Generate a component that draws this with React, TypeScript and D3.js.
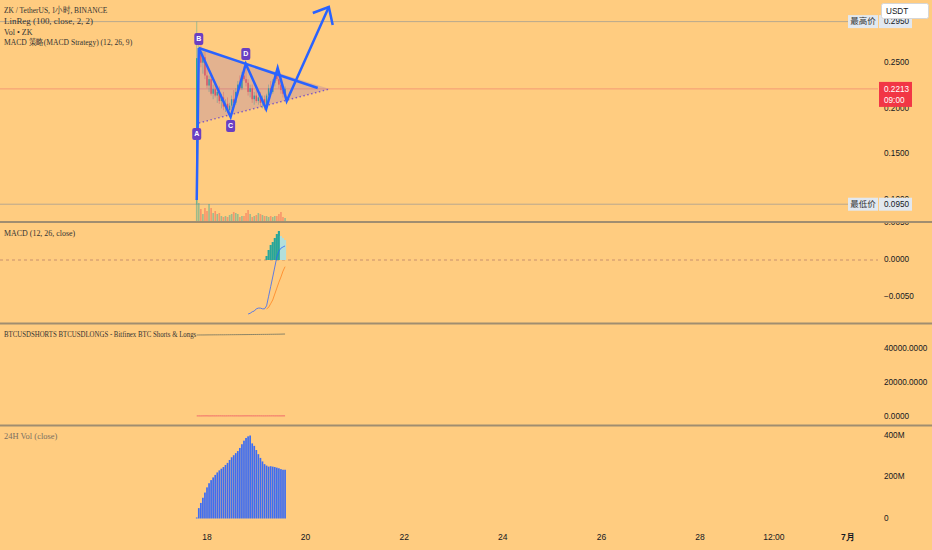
import * as d3 from "d3";

// ZK / USDT hourly candles, first bar at 17 Jun 19:00
const firstBar = new Date(2024, 5, 17, 19);
const opens = [0.100, 0.255, 0.262, 0.250, 0.256, 0.236, 0.225, 0.232, 0.216, 0.221, 0.214, 0.218, 0.208, 0.212, 0.202, 0.205, 0.198, 0.203, 0.210, 0.206, 0.218, 0.226, 0.222, 0.236, 0.232, 0.228, 0.218, 0.222, 0.210, 0.214, 0.208, 0.212, 0.206, 0.210, 0.204, 0.214, 0.222, 0.218, 0.228, 0.236, 0.232, 0.226, 0.220, 0.216];
const highs = [0.295, 0.275, 0.270, 0.262, 0.262, 0.245, 0.236, 0.238, 0.226, 0.228, 0.222, 0.224, 0.216, 0.218, 0.210, 0.212, 0.206, 0.214, 0.220, 0.222, 0.230, 0.236, 0.240, 0.246, 0.248, 0.232, 0.226, 0.226, 0.218, 0.220, 0.216, 0.218, 0.214, 0.214, 0.216, 0.226, 0.230, 0.232, 0.240, 0.244, 0.240, 0.232, 0.226, 0.224];
const lows = [0.095, 0.240, 0.245, 0.238, 0.232, 0.222, 0.218, 0.214, 0.210, 0.212, 0.206, 0.205, 0.200, 0.198, 0.196, 0.195, 0.191, 0.200, 0.204, 0.204, 0.214, 0.220, 0.220, 0.230, 0.224, 0.214, 0.212, 0.206, 0.204, 0.206, 0.204, 0.202, 0.200, 0.198, 0.202, 0.210, 0.216, 0.216, 0.224, 0.230, 0.222, 0.216, 0.212, 0.212];
const closes = [0.255, 0.262, 0.250, 0.256, 0.236, 0.225, 0.232, 0.216, 0.221, 0.214, 0.218, 0.208, 0.212, 0.202, 0.205, 0.198, 0.203, 0.210, 0.206, 0.218, 0.226, 0.222, 0.236, 0.232, 0.228, 0.218, 0.222, 0.210, 0.214, 0.208, 0.212, 0.206, 0.210, 0.204, 0.214, 0.222, 0.218, 0.228, 0.236, 0.232, 0.226, 0.220, 0.216, 0.2213];
const volumes = [22, 18, 12, 7, 13, 10, 17, 13, 8, 10, 7, 8, 5, 4, 5, 4, 6, 7, 9, 8, 7, 4, 5, 5, 8, 11, 7, 4, 5, 6, 8, 7, 6, 5, 5, 4, 5, 4, 5, 5, 7, 9, 4, 3];

// MACD (12, 26, close)
const macdStart = 25;
const macdValues = [-0.0073, -0.0072, -0.0070, -0.0069, -0.0066, -0.0065, -0.0065, -0.0066, -0.0066, -0.0062, -0.0049, -0.0036, -0.0023, -0.00095, 0.0004, 0.0012, 0.0016, 0.00176, 0.0019];
const signalStart = 34;
const signalValues = [-0.0066, -0.0064, -0.0059, -0.0054, -0.0046, -0.0038, -0.0030, -0.0023, -0.0015, -0.0009];
const histValues = [0.00054, 0.00135, 0.00203, 0.00243, 0.00297, 0.00351, 0.00392, 0.00324, 0.00297, 0.00270];

// Bitfinex BTC longs / shorts
const btcLongs = [48230, 48250, 48260, 48255, 48270, 48290, 48300, 48305, 48320, 48330, 48335, 48350, 48360, 48355, 48370, 48390, 48400, 48410, 48415, 48430, 48440, 48450, 48465, 48470, 48480, 48500, 48510, 48520, 48530, 48545, 48560, 48570, 48585, 48600, 48610, 48630, 48650, 48660, 48680, 48700, 48720, 48750, 48780, 48810];
const btcShorts = [640, 650, 630, 660, 655, 670, 640, 650, 660, 645, 660, 670, 655, 650, 640, 660, 670, 665, 650, 660, 655, 640, 650, 660, 670, 680, 665, 650, 660, 655, 670, 660, 650, 640, 655, 660, 670, 665, 650, 660, 655, 650, 660, 665];

// 24H Vol (close), millions
const vol24h = [5, 50, 75, 100, 125, 150, 170, 185, 198, 210, 222, 232, 240, 248, 258, 268, 282, 295, 305, 315, 325, 340, 358, 375, 388, 396, 400, 362, 350, 330, 310, 292, 275, 262, 255, 250, 252, 250, 248, 245, 242, 238, 235, 235];

// drawing: zigzag + triangle, [hours after first bar, price]
const zigzag: [number, number][] = [[0, 0.0996], [1, 0.2661], [16.5, 0.1905], [23.9, 0.2486], [33.8, 0.1993], [39.4, 0.2442], [43.8, 0.2081], [64.3, 0.311]];
const arrowWings: [number, number][] = [[56.5, 0.3044], [64.3, 0.311], [66.2, 0.2913]];
const upperLine: [number, number][] = [[1, 0.2661], [58.9, 0.2223]];
const lowerLine: [number, number][] = [[1, 0.184], [64.75, 0.2212]];
const pointLabels = ["A", "B", "C", "D"];
const pointLabelAt: [number, number][] = [[0, 0.1718], [1, 0.2661], [16.5, 0.1905], [23.9, 0.2486]];
const pointLabelShift = [0, -9, 9, -10];

const legendLines = ["ZK / TetherUS, 1小时, BINANCE", "LinReg (100, close, 2, 2)", "Vol • ZK", "MACD 策略(MACD Strategy) (12, 26, 9)"];
const priceTicks = [0.1, 0.15, 0.2, 0.25];
const macdTicks = [0.005, 0, -0.005];
const btcTicks = [0, 20000, 40000];
const vol24Ticks = [0, 200, 400];
const vol24TickLabels = ["0", "200M", "400M"];
const timeTicks = [new Date(2024, 5, 18), new Date(2024, 5, 20), new Date(2024, 5, 22), new Date(2024, 5, 24), new Date(2024, 5, 26), new Date(2024, 5, 28), new Date(2024, 5, 29, 12), new Date(2024, 6, 1)];
const timeTickLabels = ["18", "20", "22", "24", "26", "28", "12:00", "7月"];

const BG = "#ffcc80";
const UP = "#26a69a";
const DOWN = "#ef5350";
const BLUE = "#2962ff";
const LEGEND_FONT = "'Liberation Serif', serif";
const SANS = "'Liberation Sans', Arial, sans-serif";
const CJK = "'Noto Sans CJK SC', sans-serif";
const W = 932;
const H = 550;
const plotRight = 878;
const axisX = 884;

const monoWidth = (s: string) =>
  Array.from(s).reduce((w, ch) => w + (ch.charCodeAt(0) > 0x2e80 ? 2 : 1), 0) * 3.56;

export default function App() {
  const x = d3.scaleTime().domain([new Date(2024, 5, 18), new Date(2024, 5, 28)]).range([207, 700]);
  const xh = (h: number) => x(new Date(firstBar.getTime() + h * 3600000));
  const yPrice = d3.scaleLinear().domain([0.15, 0.25]).range([154, 62.7]);
  const yVol = d3.scaleLinear().domain([0, d3.max(volumes)!]).range([221, 199]);
  const yMacd = d3.scaleLinear().domain([-0.005, 0]).range([297, 260]);
  const yBtc = d3.scaleLinear().domain([0, 40000]).range([417, 349]);
  const yV24 = d3.scaleLinear().domain([0, 400]).range([518.5, 435.5]);
  const fmt4 = d3.format(".4f");

  const pt = (d: [number, number]): [number, number] => [xh(d[0]), yPrice(d[1])];
  const line = d3.line<[number, number]>();

  const maxPrice = d3.max(highs)!;
  const minPrice = d3.min(lows)!;
  const last = closes[closes.length - 1];

  const macdLine = d3.line<number>().x((_, i) => xh(macdStart + i)).y((v) => yMacd(v));
  const signalLine = d3.line<number>().x((_, i) => xh(signalStart + i)).y((v) => yMacd(v));
  const btcLine = d3.line<number>().x((_, i) => xh(i)).y((v) => yBtc(v));

  const triangle = [pt(upperLine[0]), pt(lowerLine[1]), pt(lowerLine[0])];

  const legend = (s: string, i: number, y0: number, fill = "#333") => (
    <text key={i} x={4} y={y0} fontFamily={LEGEND_FONT} fontSize={9} fill={fill}
      textLength={monoWidth(s)} lengthAdjust="spacingAndGlyphs" dominantBaseline="middle">{s}</text>
  );

  return (
    <div style={{ position: "absolute", left: 0, top: 0 }}>
      <svg width={W} height={H} style={{ display: "block" }}>
        <defs>
          <clipPath id="mainPane"><rect x={0} y={0} width={plotRight} height={221} /></clipPath>
          <clipPath id="macdAxis"><rect x={plotRight} y={223} width={W - plotRight} height={100} /></clipPath>
        </defs>
        <rect width={W} height={H} fill={BG} />

        {/* main pane reference lines */}
        <line x1={0} x2={plotRight} y1={yPrice(maxPrice)} y2={yPrice(maxPrice)} stroke="#b8a88e" strokeWidth={1} />
        <line x1={0} x2={plotRight} y1={yPrice(minPrice)} y2={yPrice(minPrice)} stroke="#b8a88e" strokeWidth={1} />
        <line x1={0} x2={plotRight} y1={yPrice(last)} y2={yPrice(last)} stroke="#f49a74" strokeWidth={1} />

        <g clipPath="url(#mainPane)">
          {/* volume */}
          {volumes.map((v, i) => (
            <rect key={i} x={xh(i) - 0.8} y={yVol(v)} width={1.6} height={yVol(0) - yVol(v)}
              fill={closes[i] >= opens[i] ? UP : DOWN} opacity={0.45} />
          ))}
          {/* candles */}
          {closes.map((c, i) => {
            const col = c >= opens[i] ? UP : DOWN;
            const top = yPrice(Math.max(c, opens[i]));
            const bot = yPrice(Math.min(c, opens[i]));
            return (
              <g key={i}>
                <line x1={xh(i)} x2={xh(i)} y1={yPrice(highs[i])} y2={yPrice(lows[i])} stroke={col} strokeWidth={0.7} opacity={0.6} />
                <rect x={xh(i) - 0.7} y={top} width={1.4} height={Math.max(0.8, bot - top)} fill={col} />
              </g>
            );
          })}
          {/* triangle drawing */}
          <polygon points={triangle.map((p) => p.join(",")).join(" ")} fill="rgba(126,87,194,0.22)" />
          <path d={line(upperLine.map(pt))!} stroke={BLUE} strokeWidth={2.5} fill="none" />
          <path d={line(lowerLine.map(pt))!} stroke="#7e57c2" strokeWidth={1.4} strokeDasharray="1.5,2.5" fill="none" />
          <path d={line(zigzag.map(pt))!} stroke={BLUE} strokeWidth={2.5} fill="none" strokeLinejoin="miter" />
          <path d={line(arrowWings.map(pt))!} stroke={BLUE} strokeWidth={2.5} fill="none" />
          {pointLabelAt.map((d, i) => {
            const [px, py] = pt(d);
            const cy = py + pointLabelShift[i];
            return (
              <g key={i}>
                <rect x={px - 4.5} y={cy - 6} width={9} height={12} rx={2} fill="#6a3fc2" />
                <text x={px} y={cy + 0.5} textAnchor="middle" dominantBaseline="middle" fontFamily={SANS}
                  fontSize={7} fontWeight="bold" fill="#fff">{pointLabels[i]}</text>
              </g>
            );
          })}
        </g>

        {legendLines.map((s, i) => legend(s, i, 11 + i * 10.8))}

        {/* price axis */}
        {priceTicks.map((t) => (
          <text key={t} x={axisX} y={yPrice(t)} dominantBaseline="middle" fontFamily={SANS} fontSize={8.2} fill="#131722">{fmt4(t)}</text>
        ))}
        {[{ p: maxPrice, name: "最高价" }, { p: minPrice, name: "最低价" }].map((m) => (
          <g key={m.name}>
            <rect x={848} y={yPrice(m.p) - 6.5} width={30} height={13} fill="#e2e8ef" />
            <text x={863} y={yPrice(m.p) + 0.5} textAnchor="middle" dominantBaseline="middle" fontFamily={CJK} fontSize={8.5} fill="#333">{m.name}</text>
            <rect x={879} y={yPrice(m.p) - 6.5} width={33} height={13} fill="#e2e8ef" />
            <text x={axisX} y={yPrice(m.p) + 0.5} dominantBaseline="middle" fontFamily={SANS} fontSize={8.2} fill="#131722">{fmt4(m.p)}</text>
          </g>
        ))}
        <rect x={879} y={yPrice(last) - 7} width={33} height={25} fill="#f23645" />
        <text x={axisX} y={yPrice(last) + 0.5} dominantBaseline="middle" fontFamily={SANS} fontSize={8.2} fill="#fff">{fmt4(last)}</text>
        <text x={axisX} y={yPrice(last) + 12} dominantBaseline="middle" fontFamily={SANS} fontSize={8.2} fill="#fff">09:00</text>
        <rect x={881.5} y={3.5} width={47} height={15} rx={2} fill="#fff" stroke="#d6d6d6" />
        <text x={886} y={11.5} dominantBaseline="middle" fontFamily={SANS} fontSize={8.2} fill="#131722">USDT</text>

        {/* MACD pane */}
        {legend("MACD (12, 26, close)", 10, 233.5)}
        <line x1={0} x2={plotRight} y1={yMacd(0)} y2={yMacd(0)} stroke="#c8906c" strokeWidth={1} strokeDasharray="3,3" />
        {histValues.map((v, i) => (
          <rect key={i} x={xh(signalStart + i) - 1.05} y={yMacd(v)} width={2.1} height={yMacd(0) - yMacd(v)}
            fill={i === 0 || v >= histValues[i - 1] ? UP : "#b2dfdb"} />
        ))}
        <path d={macdLine(macdValues)!} stroke={BLUE} strokeWidth={1} fill="none" opacity={0.75} />
        <path d={signalLine(signalValues)!} stroke="#ff6d00" strokeWidth={1} fill="none" opacity={0.6} />
        <g clipPath="url(#macdAxis)">
          {macdTicks.map((t) => (
            <text key={t} x={axisX} y={yMacd(t)} dominantBaseline="middle" fontFamily={SANS} fontSize={8.2} fill="#131722">{t < 0 ? "\u2212" + fmt4(-t) : fmt4(t)}</text>
          ))}
        </g>

        {/* BTC longs/shorts pane */}
        {legend("BTCUSDSHORTS BTCUSDLONGS - Bitfinex BTC Shorts & Longs", 11, 335)}
        <path d={btcLine(btcLongs)!} stroke="#8c8466" strokeWidth={1} fill="none" />
        <path d={btcLine(btcShorts)!} stroke="#f26b6b" strokeWidth={1} fill="none" />
        {btcTicks.map((t) => (
          <text key={t} x={axisX} y={yBtc(t)} dominantBaseline="middle" fontFamily={SANS} fontSize={8.2} fill="#131722">{fmt4(t)}</text>
        ))}

        {/* 24H Vol pane */}
        {legend("24H Vol (close)", 12, 437, "#7a6f60")}
        {vol24h.map((v, i) => (
          <rect key={i} x={xh(i) - 0.85} y={yV24(v)} width={1.7} height={yV24(0) - yV24(v)} fill="#3d6cf2" />
        ))}
        {vol24Ticks.map((t, i) => (
          <text key={t} x={axisX} y={yV24(t)} dominantBaseline="middle" fontFamily={SANS} fontSize={8.2} fill="#131722">{vol24TickLabels[i]}</text>
        ))}

        {/* pane separators */}
        {[222, 323.5, 425.5].map((y) => (
          <line key={y} x1={0} x2={W} y1={y} y2={y} stroke="#a08d70" strokeWidth={2} />
        ))}

        {/* time axis */}
        {timeTicks.map((d, i) => (
          <text key={i} x={x(d)} y={538} textAnchor="middle" dominantBaseline="middle" fontFamily={SANS}
            fontSize={8.5} fontWeight={i === timeTicks.length - 1 ? "bold" : "normal"} fill="#131722">{timeTickLabels[i]}</text>
        ))}
      </svg>
    </div>
  );
}
